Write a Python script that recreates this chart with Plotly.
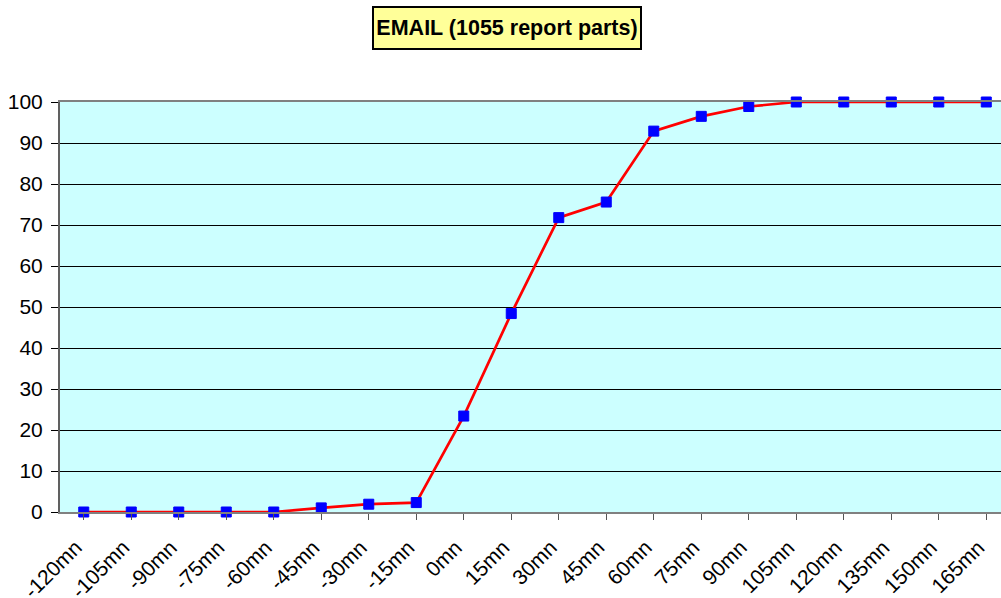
import plotly.graph_objects as go

categories = ["-120mn", "-105mn", "-90mn", "-75mn", "-60mn", "-45mn", "-30mn", "-15mn",
              "0mn", "15mn", "30mn", "45mn", "60mn", "75mn", "90mn", "105mn",
              "120mn", "135mn", "150mn", "165mn"]
values = [0, 0, 0, 0, 0, 1.0, 1.9, 2.3, 23.4, 48.4, 71.8, 75.6, 92.9, 96.5, 98.9,
          100, 100, 100, 100, 100]
y_ticks = [0, 10, 20, 30, 40, 50, 60, 70, 80, 90, 100]
title_text = "EMAIL (1055 report parts)"

fig = go.Figure()
fig.add_trace(go.Scatter(
    x=list(range(len(categories))), y=values, mode="lines+markers",
    line=dict(color="#FF0000", width=2.7),
    marker=dict(symbol="square", size=10, color="#0000FF",
                line=dict(color="#0000FF", width=1)),
    showlegend=False, cliponaxis=False,
))

fig.update_layout(
    width=1001, height=598,
    margin=dict(l=60, r=0, t=102, b=86, autoexpand=False),
    paper_bgcolor="white", plot_bgcolor="#CCFFFF",
    font=dict(family="Liberation Sans, Arial", color="black"),
    annotations=[dict(
        text="<b>" + title_text + "</b>", xref="paper", yref="paper",
        x=(507 - 60) / 941, y=(512 - 28) / 410, xanchor="center", yanchor="middle",
        showarrow=False, font=dict(size=21.5, color="black", family="Liberation Sans, Arial"),
        bgcolor="#FFFF99", bordercolor="black", borderwidth=2, borderpad=2,
        width=262, height=36,
    )],
)
fig.update_xaxes(
    range=[-0.5, 19.31], tickmode="array", tickvals=list(range(len(categories))),
    ticktext=categories, tickson="boundaries", ticks="outside", ticklen=6,
    tickcolor="#555555", tickwidth=1, tickangle=-45, tickfont=dict(size=21),
    showgrid=False, showline=True, linecolor="#808080", linewidth=2, mirror=True,
    zeroline=False, ticklabelstandoff=7, ticklabelshift=-8, automargin=False,
)
fig.update_yaxes(
    range=[0, 100], tickvals=y_ticks, ticks="outside", ticklen=7, tickcolor="black",
    tickwidth=1, tickfont=dict(size=21), showgrid=True, gridcolor="black",
    gridwidth=1, showline=True, linecolor="#606060", linewidth=2, zeroline=False,
    ticklabelstandoff=4, automargin=False,
)
fig.write_html("out.html", config={"displayModeBar": False}, post_script=(
    "document.body.style.margin='0';document.body.style.overflow='hidden';"))
